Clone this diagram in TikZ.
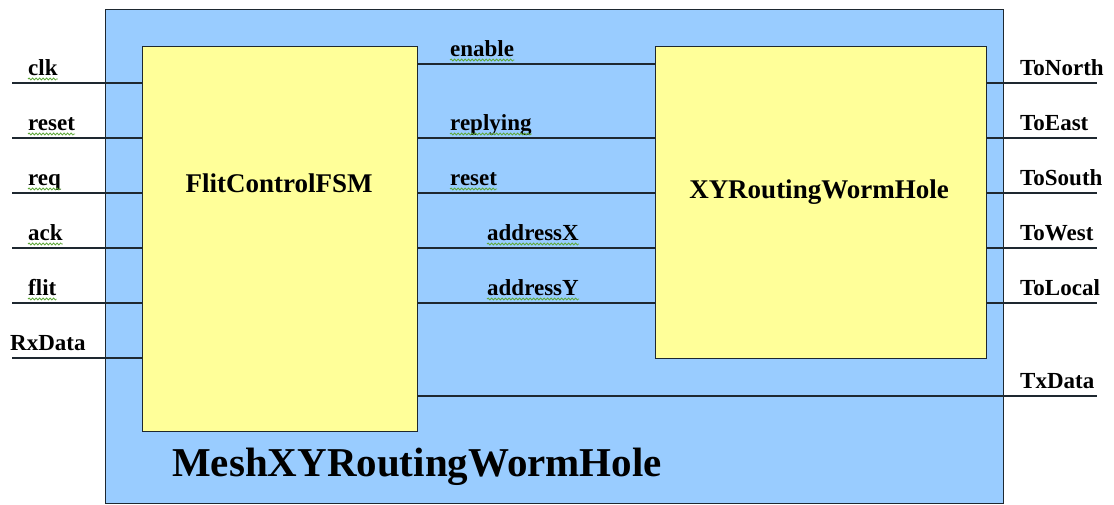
\documentclass[tikz,border=0pt]{standalone}
\usepackage{fontspec}
\setmainfont{Liberation Serif}
\usetikzlibrary{decorations.pathmorphing}
\definecolor{meshblue}{HTML}{99CCFF}
\definecolor{blockyellow}{HTML}{FFFF99}
\definecolor{wire}{HTML}{1E2830}
\definecolor{squiggle}{HTML}{5FA83A}

\begin{document}
\begin{tikzpicture}[x=1bp,y=-1bp,
  box/.style={draw=wire, line width=1.4bp, inner sep=0pt, anchor=north west},
  wireline/.style={draw=wire, line width=1.4bp},
  sig/.style={font=\fontsize{23bp}{25bp}\selectfont\bfseries, inner sep=0pt, anchor=base west},
  blocktitle/.style={font=\fontsize{27bp}{29bp}\selectfont\bfseries, inner sep=0pt, anchor=base},
  squig/.style={draw=squiggle, line width=0.8bp,
    decorate, decoration={snake, segment length=3.5bp, amplitude=1bp}}]
\useasboundingbox (0,0) rectangle (1114,505);

% enclosing module and the two sub-blocks
\node[box, fill=meshblue, minimum width=898bp, minimum height=494bp] (mesh) at (105,9) {};
\node[box, fill=blockyellow, minimum width=275bp, minimum height=385bp] (fsm) at (142,46) {};
\node[box, fill=blockyellow, minimum width=331bp, minimum height=312bp] (xy) at (655,46) {};

\node[blocktitle] (fsmtitle) at (279,193) {FlitControlFSM};
\node[blocktitle] (xytitle) at (819,199) {XYRoutingWormHole};
\node[font=\fontsize{41bp}{45bp}\selectfont\bfseries, inner sep=0pt, anchor=base west]
  (meshtitle) at (172,476) {MeshXYRoutingWormHole};

% inputs of FlitControlFSM
\foreach \name/\lbl/\y/\lx in {clk/clk/83/28, rst/reset/138/28, req/req/193/28,
                               ack/ack/248/28, flit/flit/303/28, rx/RxData/358/10}{
  \coordinate (in-\name) at (12,\y);
  \draw[wireline] (in-\name) -- (in-\name -| fsm.west);
  \node[sig] (lbl-\name) at (\lx,\y-7) {\lbl};
}
\foreach \name in {clk,rst,req,ack,flit}{
  \draw[squig] ([yshift=-3bp]lbl-\name.base west) -- ([yshift=-3bp]lbl-\name.base east);
}

% internal signals between the blocks
\foreach \name/\lbl/\y/\lx in {en/enable/64/450, rep/replying/138/450, irst/reset/193/450,
                               ax/addressX/248/487, ay/addressY/303/487}{
  \coordinate (mid-\name) at (500,\y);
  \draw[wireline] (mid-\name -| fsm.east) -- (mid-\name -| xy.west);
  \node[sig] (lbl-\name) at (\lx,\y-7) {\lbl};
  \draw[squig] ([yshift=-3bp]lbl-\name.base west) -- ([yshift=-3bp]lbl-\name.base east);
}

% outputs of XYRoutingWormHole
\foreach \name/\lbl/\y in {n/ToNorth/83, e/ToEast/138, s/ToSouth/193, w/ToWest/248, l/ToLocal/303}{
  \coordinate (out-\name) at (1097,\y);
  \draw[wireline] (out-\name -| xy.east) -- (out-\name);
  \node[sig] (lbl-\name) at (1020,\y-7) {\lbl};
}

% data output
\coordinate (out-tx) at (1097,396);
\draw[wireline] (out-tx -| fsm.east) -- (out-tx);
\node[sig] (lbl-tx) at (1020,388) {TxData};
\end{tikzpicture}
\end{document}
